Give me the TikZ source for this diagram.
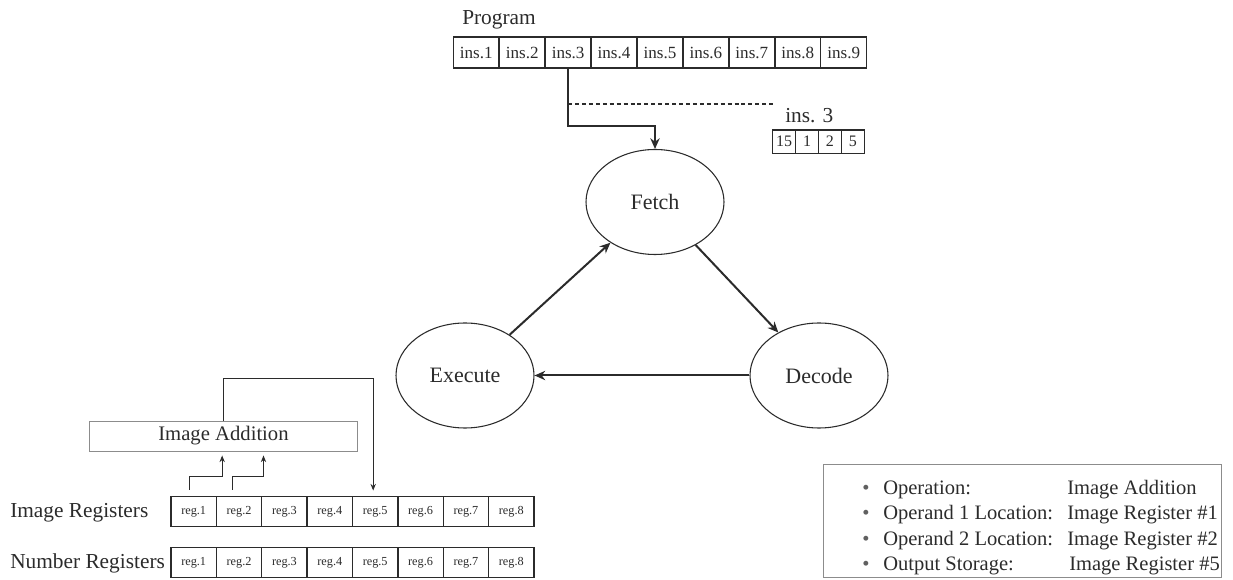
\documentclass[tikz,border=0pt]{standalone}
\usepackage{fontspec}
\setmainfont{Liberation Serif}
\usetikzlibrary{arrows.meta,shapes.geometric}
\definecolor{ink}{HTML}{2B2B2B}
\definecolor{frame}{HTML}{8C8C8C}

\begin{document}
\begin{tikzpicture}[x=0.75pt,y=-0.75pt,
  fs/.style={font=\fontsize{#1}{#1}\selectfont},
  every node/.style={text=ink},
  lbl/.style={fs=16pt, inner sep=0pt},
  key/.style={fs=15.4pt, inner sep=0pt},
  pcell/.style={draw=ink, line width=1.1pt, minimum width=34.45pt, minimum height=23.25pt,
                inner sep=0pt, outer sep=0pt, fs=12.8pt},
  dcell/.style={draw=ink, line width=1.1pt, minimum width=17.2pt, minimum height=17.5pt,
                inner sep=0pt, outer sep=0pt, fs=12pt},
  rcell/.style={draw=ink, line width=1pt, minimum width=34.03pt, minimum height=22.5pt,
                inner sep=0pt, outer sep=0pt, fs=9.2pt},
  state/.style={ellipse, draw=ink, line width=0.8pt, minimum width=103.5pt,
                minimum height=78.75pt, inner sep=0pt, fs=16.5pt},
  flow/.style={draw=ink, line width=1.5pt, -{Stealth[length=8pt,width=7pt]}},
  link/.style={draw=ink, line width=0.8pt, -{Stealth[length=5pt,width=4pt]}},
]
\useasboundingbox (0,0) rectangle (1233,580);

% program memory
\node[lbl, anchor=base west] (prog) at (462,24.5) {Program};
\foreach \i in {1,...,9}
  \node[pcell] (p\i) at ({453.3+45.93*(\i-0.5)},52.5) {ins.\i};

% decoded instruction word
\coordinate (dashend) at (775,104);
\node[lbl, anchor=base west] (ins3) at (785,122.7) {ins. 3};
\foreach \v [count=\i] in {15,1,2,5}
  \node[dcell] (d\i) at ({772.7+22.9*(\i-0.5)},141.7) {\v};

% instruction cycle
\node[state] (fetch) at (655,202) {Fetch};
\node[state] (exec) at (465,375.5) {Execute};
\node[state] (dec) at (819,375.5) {Decode};

\draw[flow] (p3.south) -- (p3.south |- 0,126) -| (fetch.north);
\draw[ink, line width=0.9pt, dash pattern=on 3pt off 2.2pt] (p3.south |- dashend) -- (dashend);
\draw[flow] (exec) -- (fetch);
\draw[flow] (fetch) -- (dec);
\draw[flow] (dec) -- (exec);

% register files
\node[lbl, anchor=west] (irl) at (10,513) {Image Registers};
\node[lbl, anchor=west] (nrl) at (10,563) {Number Registers};
\foreach \i in {1,...,8} {
  \node[rcell] (ir\i) at ({171+45.375*(\i-0.5)},511.6) {reg.\i};
  \node[rcell] (nr\i) at ({171+45.375*(\i-0.5)},562.6) {reg.\i};
}

% image addition unit
\node[draw=frame, line width=0.7pt, minimum width=201pt, minimum height=22.5pt,
      inner sep=0pt, fs=15.5pt] (ia) at (223.5,436) {Image Addition};
\draw[link] ([shift={(-3pt,5pt)}]ir1.north) -- ++(0pt,10pt) -| ([shift={(-1pt,-3pt)}]ia.south);
\draw[link] ([shift={(-5pt,5pt)}]ir2.north) -- ++(0pt,10pt) -| ([shift={(30pt,-3pt)}]ia.south);
\draw[link] (ia.north) -- ++(0pt,31.5pt) -| ([shift={(-1.5pt,4.5pt)}]ir5.north);

% decoded fields
\node[draw=frame, line width=0.7pt, minimum width=298pt, minimum height=84.5pt,
      anchor=north west, inner sep=0pt] (legend) at (823.3,464) {};
\foreach \y/\x/\a/\b [count=\i] in {494.5/1067/Operation:/Image Addition,
    520/1067/Operand 1 Location:/Image Register \#1,
    545.5/1067/Operand 2 Location:/Image Register \#2,
    571/1069/Output Storage:/Image Register \#5} {
  \node[key, anchor=base, text=ink!75] (b\i) at (866,\y) {\textbullet};
  \node[key, anchor=base west] (k\i) at (883,\y) {\a};
  \node[key, anchor=base west] (v\i) at (\x,\y) {\b};
}
\end{tikzpicture}
\end{document}
